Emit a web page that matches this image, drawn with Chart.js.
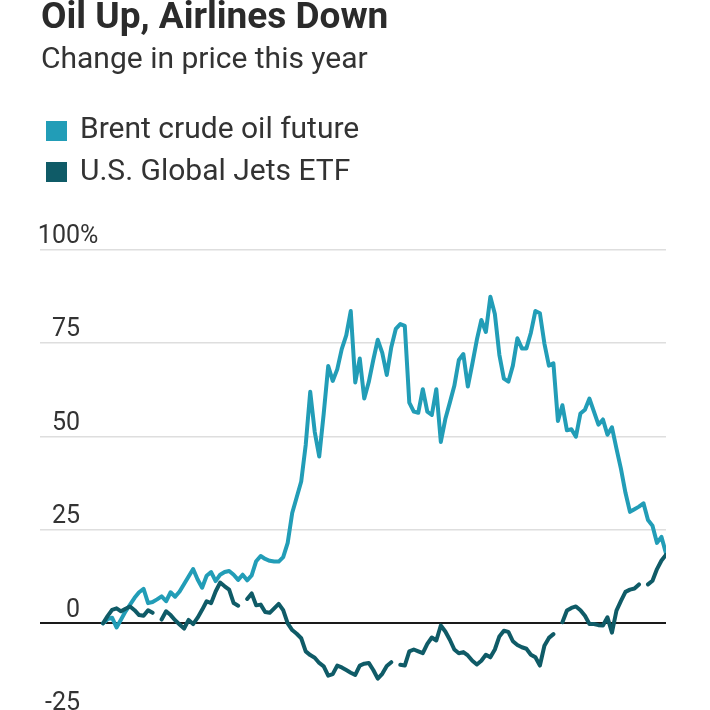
<!DOCTYPE html>
<html>
<head>
<meta charset="utf-8">
<script src="https://cdn.jsdelivr.net/npm/chart.js@4.4.1/dist/chart.umd.min.js"></script>
<style>
  html, body { margin:0; padding:0; width:710px; height:710px; overflow:hidden; background:#fff; }
  #wrap { position:absolute; left:0; top:0; width:710px; height:750px; }
  canvas { position:absolute; left:0; top:0; }
  .txt { position:absolute; white-space:nowrap; font-family:Roboto, "Noto Sans", sans-serif; color:#333; line-height:1; }
  #title { left:41px; top:-3.2px; font-size:37px; font-weight:700; color:#2b2b2b; }
  #subtitle { left:41px; top:42.7px; font-size:30px; font-weight:400; }
  .sw { position:absolute; width:21px; height:20px; }
</style>
</head>
<body>
<div id="wrap">
  <canvas id="c" width="710" height="750"></canvas>
  <div id="title" class="txt">Oil Up, Airlines Down</div>
  <div id="subtitle" class="txt">Change in price this year</div>
  <div id="legend"></div>
</div>
<script>
// ---- data (percent change since start of year, one value per trading day) ----
const seriesNames = ['Brent crude oil future', 'U.S. Global Jets ETF'];
const seriesColors = ['#229db7', '#0f5b67'];
const yTickValues = [-25, 0, 25, 50, 75, 100];

const oilChange = [0,1.1,1.5,-1.1,1.0,3.2,5.0,6.8,8.3,9.2,
  5.4,5.7,6.4,7.2,5.9,8.3,7.1,8.5,10.5,12.5,
  14.5,11.7,9.5,12.7,13.7,11.3,13.0,13.7,14.0,13.0,
  11.6,13.0,11.5,12.8,16.6,18.0,17.2,16.7,16.5,16.5,
  17.7,21.5,29.5,33.7,37.9,47.7,61.9,51.2,44.6,56.1,
  68.8,64.8,67.9,73.3,77.0,83.5,64.4,70.8,60.1,64.5,
  70.4,75.8,72.3,66.4,73.8,78.7,80.0,79.5,59.0,56.6,
  56.3,62.6,56.6,55.7,62.6,48.5,54.6,59.0,63.5,70.4,
  72.0,63.3,69.4,75.8,81.1,77.9,87.3,82.7,71.8,65.4,
  64.6,68.9,76.2,73.5,73.5,77.7,83.5,82.9,74.8,68.9,
  69.5,54.1,58.3,51.6,51.9,49.9,56.1,57.1,60.1,56.6,
  53.1,54.5,50.4,52.4,46.7,41.3,34.9,29.8,30.5,31.2,
  32.1,27.6,26.1,21.5,23.1,18.7];

const jetsChange = [0,1.9,3.6,4.0,3.2,3.9,4.5,3.5,2.2,2.0,
  3.5,2.8,null,1.0,3.2,2.2,0.8,-0.3,-1.4,0.9,
  -0.2,1.5,3.6,5.9,5.4,8.5,10.9,9.9,9.0,5.4,
  4.7,null,6.5,8.0,4.8,5.0,3.0,2.8,4.0,5.2,
  3.5,0.0,-1.8,-2.8,-4.0,-7.5,-8.5,-9.2,-10.6,-11.5,
  -14.0,-13.6,-11.3,-11.8,-12.5,-13.2,-13.8,-11.3,-10.8,-10.6,
  -12.5,-14.8,-13.5,-11.4,-10.4,null,-11.1,-11.3,-7.5,-7.0,
  -7.5,-8.0,-5.5,-3.8,-4.6,-0.6,-2.2,-4.4,-7.0,-8.0,
  -7.7,-8.6,-10.0,-11.0,-10.0,-8.4,-9.1,-7.0,-3.5,-2.0,
  -2.3,-4.8,-5.8,-6.4,-6.8,-8.4,-9.1,-11.3,-6.0,-3.9,
  -2.9,null,0.3,3.4,4.1,4.5,3.5,2.0,-0.2,-0.2,
  -0.5,-0.6,1.6,-2.5,3.4,6.0,8.4,9.0,9.3,10.4,
  null,10.4,11.4,14.5,16.8,18.3];

const tradingDays = oilChange.map((_, i) => i);

// ---- legend (HTML text) ----
const legend = document.getElementById('legend');
seriesNames.forEach((name, i) => {
  const sw = document.createElement('div');
  sw.className = 'sw';
  sw.style.left = '46px';
  sw.style.top = (120.7 + i * 41.5) + 'px';
  sw.style.background = seriesColors[i];
  legend.appendChild(sw);
  const t = document.createElement('div');
  t.className = 'txt';
  t.style.left = '80px';
  t.style.fontSize = '30px';
  t.style.top = (112.7 + i * 42) + 'px';
  t.textContent = name;
  legend.appendChild(t);
});

// ---- y tick labels: numbers right-aligned, "%" hanging on the top one ----
const yLabelPlugin = {
  id: 'yLabels',
  afterDraw(chart) {
    const s = chart.scales.y;
    const ctx = chart.ctx;
    ctx.save();
    ctx.font = '25px Roboto, "Noto Sans", sans-serif';
    ctx.fillStyle = '#333';
    ctx.textBaseline = 'alphabetic';
    s.ticks.forEach(t => {
      const y = s.getPixelForValue(t.value) - 6.5;
      ctx.textAlign = 'right';
      ctx.fillText(String(t.value), 80, y);
      if (t.value === yTickValues[yTickValues.length - 1]) {
        ctx.textAlign = 'left';
        ctx.fillText('%', 80, y);
      }
    });
    ctx.restore();
  }
};

function build() {
  const mk = (arr) => tradingDays.map((d, i) => ({ x: d, y: arr[i] }));
  new Chart(document.getElementById('c'), {
    type: 'line',
    data: {
      datasets: [
        { label: seriesNames[0], data: mk(oilChange), borderColor: seriesColors[0], order: 1 },
        { label: seriesNames[1], data: mk(jetsChange), borderColor: seriesColors[1], order: 0 }
      ]
    },
    options: {
      responsive: false,
      animation: false,
      devicePixelRatio: 1,
      spanGaps: false,
      layout: { padding: { left: 40, right: 44, top: 249.3, bottom: 33.2 } },
      elements: {
        line: { borderWidth: 4, tension: 0, borderJoinStyle: 'round', borderCapStyle: 'round', fill: false },
        point: { radius: 0, hoverRadius: 0 }
      },
      plugins: { legend: { display: false }, tooltip: { enabled: false }, title: { display: false } },
      scales: {
        x: { type: 'linear', display: false, min: -14, max: tradingDays[tradingDays.length - 1] },
        y: {
          type: 'linear',
          min: yTickValues[0], max: yTickValues[yTickValues.length - 1],
          afterBuildTicks: (s) => { s.ticks = yTickValues.map(v => ({ value: v })); },
          afterFit: (s) => { s.width = 0; },
          border: { display: false },
          ticks: { display: false },
          grid: {
            drawTicks: false,
            color: (c) => c.tick && c.tick.value === 0 ? '#1a1a1a' : '#dedede',
            lineWidth: (c) => c.tick && c.tick.value === 0 ? 2 : 1.6
          }
        }
      }
    },
    plugins: [yLabelPlugin]
  });
}
if (document.fonts && document.fonts.load) {
  document.fonts.load('25px Roboto').then(build, build);
} else { build(); }
</script>
</body>
</html>
